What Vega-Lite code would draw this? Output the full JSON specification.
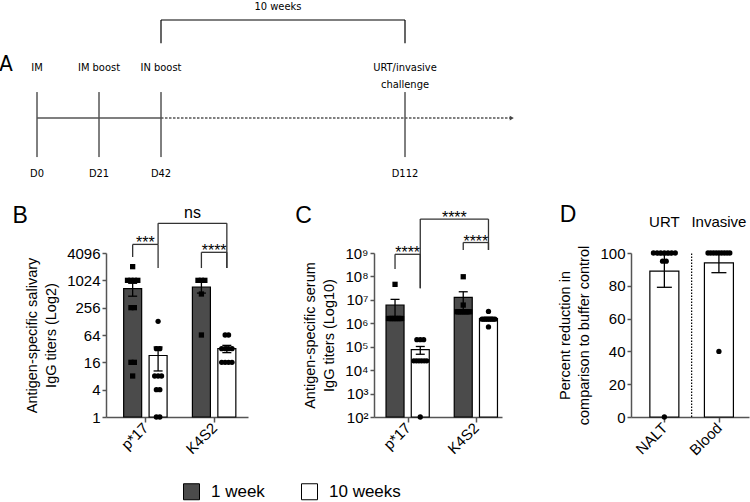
{
  "$schema": "https://vega.github.io/schema/vega-lite/v6.json",
  "width": 750,
  "height": 502,
  "autosize": {"type": "none"},
  "padding": 0,
  "background": "white",
  "config": {
    "view": {"stroke": null},
    "font": "Liberation Sans",
    "axis": {
      "domainColor": "#555555", "domainWidth": 1.5, "tickColor": "#555555", "tickWidth": 1.5, "tickSize": 4,
      "labelFont": "Liberation Sans", "labelFontSize": 15, "labelColor": "black", "labelPadding": 2,
      "titleFont": "Liberation Sans", "titleFontSize": 14.5, "titleFontWeight": "normal", "titleColor": "black",
      "titlePadding": 8, "titleLineHeight": 19, "grid": false, "labelOverlap": false, "labelFlush": false
    },
    "axisX": {"labelAngle": -45, "labelAlign": "right", "labelBaseline": "middle", "tickSize": 5, "labelPadding": 3},
    "text": {"font": "Liberation Sans", "color": "black"}
  },
  "datasets": {
    "schedule": [
      {"day": 0, "label": "D0", "event": "IM"},
      {"day": 21, "label": "D21", "event": "IM boost"},
      {"day": 42, "label": "D42", "event": "IN boost"},
      {"day": 112, "label": "D112", "event": "URT/invasive\nchallenge"}
    ],
    "phases": [
      {"start": 0, "end": 42, "style": "solid"},
      {"start": 42, "end": 145, "style": "dashed"}
    ],
    "interval": [{"start": 42, "end": 112, "label": "10 weeks"}],
    "salivary": [
      {"antigen": "p*17", "week": "1 week", "value": 2048},
      {"antigen": "p*17", "week": "1 week", "value": 1024},
      {"antigen": "p*17", "week": "1 week", "value": 1024},
      {"antigen": "p*17", "week": "1 week", "value": 1024},
      {"antigen": "p*17", "week": "1 week", "value": 1024},
      {"antigen": "p*17", "week": "1 week", "value": 256},
      {"antigen": "p*17", "week": "1 week", "value": 256},
      {"antigen": "p*17", "week": "1 week", "value": 16},
      {"antigen": "p*17", "week": "1 week", "value": 16},
      {"antigen": "p*17", "week": "1 week", "value": 8},
      {"antigen": "p*17", "week": "10 weeks", "value": 128},
      {"antigen": "p*17", "week": "10 weeks", "value": 32},
      {"antigen": "p*17", "week": "10 weeks", "value": 32},
      {"antigen": "p*17", "week": "10 weeks", "value": 8},
      {"antigen": "p*17", "week": "10 weeks", "value": 8},
      {"antigen": "p*17", "week": "10 weeks", "value": 8},
      {"antigen": "p*17", "week": "10 weeks", "value": 4},
      {"antigen": "p*17", "week": "10 weeks", "value": 4},
      {"antigen": "p*17", "week": "10 weeks", "value": 1},
      {"antigen": "p*17", "week": "10 weeks", "value": 1},
      {"antigen": "K4S2", "week": "1 week", "value": 1024},
      {"antigen": "K4S2", "week": "1 week", "value": 1024},
      {"antigen": "K4S2", "week": "1 week", "value": 1024},
      {"antigen": "K4S2", "week": "1 week", "value": 512},
      {"antigen": "K4S2", "week": "1 week", "value": 64},
      {"antigen": "K4S2", "week": "10 weeks", "value": 64},
      {"antigen": "K4S2", "week": "10 weeks", "value": 64},
      {"antigen": "K4S2", "week": "10 weeks", "value": 32},
      {"antigen": "K4S2", "week": "10 weeks", "value": 32},
      {"antigen": "K4S2", "week": "10 weeks", "value": 32},
      {"antigen": "K4S2", "week": "10 weeks", "value": 32},
      {"antigen": "K4S2", "week": "10 weeks", "value": 16},
      {"antigen": "K4S2", "week": "10 weeks", "value": 16},
      {"antigen": "K4S2", "week": "10 weeks", "value": 16},
      {"antigen": "K4S2", "week": "10 weeks", "value": 16}
    ],
    "serum": [
      {"antigen": "p*17", "week": "1 week", "value": 46000000},
      {"antigen": "p*17", "week": "1 week", "value": 1600000},
      {"antigen": "p*17", "week": "1 week", "value": 1600000},
      {"antigen": "p*17", "week": "1 week", "value": 1600000},
      {"antigen": "p*17", "week": "1 week", "value": 1600000},
      {"antigen": "p*17", "week": "1 week", "value": 1600000},
      {"antigen": "p*17", "week": "1 week", "value": 1600000},
      {"antigen": "p*17", "week": "1 week", "value": 1600000},
      {"antigen": "p*17", "week": "1 week", "value": 1600000},
      {"antigen": "p*17", "week": "1 week", "value": 1600000},
      {"antigen": "p*17", "week": "10 weeks", "value": 200000},
      {"antigen": "p*17", "week": "10 weeks", "value": 200000},
      {"antigen": "p*17", "week": "10 weeks", "value": 200000},
      {"antigen": "p*17", "week": "10 weeks", "value": 25000},
      {"antigen": "p*17", "week": "10 weeks", "value": 25000},
      {"antigen": "p*17", "week": "10 weeks", "value": 25000},
      {"antigen": "p*17", "week": "10 weeks", "value": 25000},
      {"antigen": "p*17", "week": "10 weeks", "value": 25000},
      {"antigen": "p*17", "week": "10 weeks", "value": 25000},
      {"antigen": "p*17", "week": "10 weeks", "value": 100},
      {"antigen": "K4S2", "week": "1 week", "value": 97000000},
      {"antigen": "K4S2", "week": "1 week", "value": 6000000},
      {"antigen": "K4S2", "week": "1 week", "value": 3100000},
      {"antigen": "K4S2", "week": "1 week", "value": 3100000},
      {"antigen": "K4S2", "week": "1 week", "value": 3100000},
      {"antigen": "K4S2", "week": "1 week", "value": 3100000},
      {"antigen": "K4S2", "week": "1 week", "value": 3100000},
      {"antigen": "K4S2", "week": "1 week", "value": 3100000},
      {"antigen": "K4S2", "week": "1 week", "value": 3100000},
      {"antigen": "K4S2", "week": "1 week", "value": 3100000},
      {"antigen": "K4S2", "week": "10 weeks", "value": 3200000},
      {"antigen": "K4S2", "week": "10 weeks", "value": 1500000},
      {"antigen": "K4S2", "week": "10 weeks", "value": 1500000},
      {"antigen": "K4S2", "week": "10 weeks", "value": 1500000},
      {"antigen": "K4S2", "week": "10 weeks", "value": 1500000},
      {"antigen": "K4S2", "week": "10 weeks", "value": 1500000},
      {"antigen": "K4S2", "week": "10 weeks", "value": 1500000},
      {"antigen": "K4S2", "week": "10 weeks", "value": 1500000},
      {"antigen": "K4S2", "week": "10 weeks", "value": 1500000},
      {"antigen": "K4S2", "week": "10 weeks", "value": 700000}
    ],
    "reduction": [
      {"site": "NALT", "value": 100}, {"site": "NALT", "value": 100}, {"site": "NALT", "value": 100},
      {"site": "NALT", "value": 100}, {"site": "NALT", "value": 100}, {"site": "NALT", "value": 100},
      {"site": "NALT", "value": 100}, {"site": "NALT", "value": 95}, {"site": "NALT", "value": 95},
      {"site": "NALT", "value": 0},
      {"site": "Blood", "value": 100}, {"site": "Blood", "value": 100}, {"site": "Blood", "value": 100},
      {"site": "Blood", "value": 100}, {"site": "Blood", "value": 100}, {"site": "Blood", "value": 100},
      {"site": "Blood", "value": 100}, {"site": "Blood", "value": 100}, {"site": "Blood", "value": 100},
      {"site": "Blood", "value": 40}
    ],
    "sites": [
      {"site": "NALT", "group": "URT"},
      {"site": "Blood", "group": "Invasive"}
    ],
    "bracketsB": [
      {"aA": "p*17", "wA": "1 week", "aB": "p*17", "wB": "10 weeks", "level": 6340, "lowA": 3350, "lowB": 1911, "label": "***"},
      {"aA": "p*17", "wA": "10 weeks", "aB": "K4S2", "wB": "10 weeks", "level": 18430, "lowA": 6340, "lowB": 1911, "label": "ns"},
      {"aA": "K4S2", "wA": "1 week", "aB": "K4S2", "wB": "10 weeks", "level": 4240, "lowA": 1911, "lowB": 1911, "label": "****"}
    ],
    "bracketsC": [
      {"aA": "p*17", "wA": "1 week", "aB": "p*17", "wB": "10 weeks", "level": 880000000, "lowA": 210000000, "lowB": 31000000, "label": "****"},
      {"aA": "p*17", "wA": "10 weeks", "aB": "K4S2", "wB": "10 weeks", "level": 28000000000, "lowA": 31000000, "lowB": 1350000000, "label": "****"},
      {"aA": "K4S2", "wA": "1 week", "aB": "K4S2", "wB": "10 weeks", "level": 2800000000, "lowA": 1350000000, "lowB": 1350000000, "label": "****"}
    ]
  },
  "resolve": {"scale": {"x": "independent", "y": "independent"}},
  "layer": [
    {
      "layer": [
        {
          "data": {"name": "schedule"},
          "mark": {"type": "rule", "color": "black", "strokeWidth": 1},
          "encoding": {
            "x": {"field": "day", "type": "quantitative", "scale": {"domain": [0, 42, 112, 146], "range": [37, 161, 405, 515], "nice": false, "zero": false}, "axis": null},
            "y": {"datum": 1.0, "type": "quantitative", "scale": {"domain": [-2.42, 4.54], "range": [181, 0], "nice": false, "zero": false}, "axis": null},
            "y2": {"datum": -1.5}
          }
        },
        {
          "data": {"name": "phases"},
          "transform": [{"filter": "datum.style == 'solid'"}],
          "mark": {"type": "rule", "color": "#555555", "strokeWidth": 1.6},
          "encoding": {
            "x": {"field": "start", "type": "quantitative", "axis": null},
            "x2": {"field": "end"},
            "y": {"datum": 0, "type": "quantitative", "axis": null}
          }
        },
        {
          "data": {"name": "phases"},
          "transform": [{"filter": "datum.style == 'dashed'"}],
          "mark": {"type": "rule", "color": "#555555", "strokeWidth": 1.6, "strokeDash": [2.5, 1.5]},
          "encoding": {
            "x": {"field": "start", "type": "quantitative", "axis": null},
            "x2": {"field": "end"},
            "y": {"datum": 0, "type": "quantitative", "axis": null}
          }
        },
        {
          "data": {"name": "phases"},
          "transform": [{"filter": "datum.style == 'dashed'"}],
          "mark": {"type": "point", "shape": "triangle-right", "filled": true, "color": "#444444", "size": 22, "opacity": 1},
          "encoding": {
            "x": {"field": "end", "type": "quantitative", "axis": null},
            "y": {"datum": 0, "type": "quantitative", "axis": null}
          }
        },
        {
          "data": {"name": "schedule"},
          "mark": {"type": "text", "font": "Liberation Sans Narrow, DejaVu Sans Condensed, Lato, sans-serif", "fontSize": 11, "lineBreak": "\n", "lineHeight": 17, "baseline": "middle", "align": "center"},
          "encoding": {
            "x": {"field": "day", "type": "quantitative", "axis": null},
            "y": {"datum": 1.94, "type": "quantitative", "axis": null},
            "text": {"field": "event"}
          }
        },
        {
          "data": {"name": "schedule"},
          "mark": {"type": "text", "font": "Liberation Sans Narrow, DejaVu Sans Condensed, Lato, sans-serif", "fontSize": 11, "baseline": "middle", "align": "center"},
          "encoding": {
            "x": {"field": "day", "type": "quantitative", "axis": null},
            "y": {"datum": -2.15, "type": "quantitative", "axis": null},
            "text": {"field": "label"}
          }
        },
        {
          "data": {"name": "interval"},
          "mark": {"type": "rule", "color": "black", "strokeWidth": 1.2},
          "encoding": {
            "x": {"field": "start", "type": "quantitative", "axis": null},
            "x2": {"field": "end"},
            "y": {"datum": 3.77, "type": "quantitative", "axis": null}
          }
        },
        {
          "data": {"name": "interval"},
          "mark": {"type": "rule", "color": "black", "strokeWidth": 1.2},
          "encoding": {
            "x": {"field": "start", "type": "quantitative", "axis": null},
            "y": {"datum": 2.88, "type": "quantitative", "axis": null},
            "y2": {"datum": 3.77}
          }
        },
        {
          "data": {"name": "interval"},
          "mark": {"type": "rule", "color": "black", "strokeWidth": 1.2},
          "encoding": {
            "x": {"field": "end", "type": "quantitative", "axis": null},
            "y": {"datum": 2.88, "type": "quantitative", "axis": null},
            "y2": {"datum": 3.77}
          }
        },
        {
          "data": {"name": "interval"},
          "transform": [{"calculate": "(datum.start + datum.end) / 2", "as": "mid"}],
          "mark": {"type": "text", "font": "Liberation Sans Narrow, DejaVu Sans Condensed, Lato, sans-serif", "fontSize": 11, "baseline": "middle", "align": "center", "dx": -5},
          "encoding": {
            "x": {"field": "mid", "type": "quantitative", "axis": null},
            "y": {"datum": 4.27, "type": "quantitative", "axis": null},
            "text": {"field": "label"}
          }
        },
        {
          "data": {"values": [{"panel": "A"}]},
          "mark": {"type": "text", "font": "Liberation Sans Narrow, DejaVu Sans Condensed, Lato, sans-serif", "fontSize": 22, "baseline": "middle", "align": "center"},
          "encoding": {
            "x": {"datum": -10.5, "type": "quantitative", "axis": null},
            "y": {"datum": 2.08, "type": "quantitative", "axis": null},
            "text": {"field": "panel"}
          }
        }
      ]
    },
    {
      "layer": [
        {
          "data": {"name": "salivary"},
          "transform": [
            {"aggregate": [{"op": "mean", "field": "value", "as": "mean"}, {"op": "stderr", "field": "value", "as": "sem"}], "groupby": ["antigen", "week"]},
            {"calculate": "(datum.antigen == 'p*17' ? 0 : 1) + (datum.week == '1 week' ? -0.185 : 0.185)", "as": "xpos"},
            {"calculate": "datum.mean - datum.sem", "as": "lo"},
            {"calculate": "datum.mean + datum.sem", "as": "hi"}
          ],
          "layer": [
            {
              "mark": {"type": "bar", "orient": "vertical", "width": 18, "stroke": "black", "strokeWidth": 1.2},
              "encoding": {
                "x": {"field": "xpos", "type": "quantitative", "scale": {"domain": [-0.5, 1.42], "range": [106, 248], "nice": false, "zero": false}, "axis": {"orient": "bottom", "offset": -85, "values": [0, 1], "labelExpr": "datum.value == 0 ? 'p*17' : 'K4S2'", "title": null}},
                "y": {"field": "mean", "type": "quantitative", "scale": {"type": "log", "base": 2, "domain": [1, 4096], "range": [417, 253], "nice": false}, "axis": {"orient": "left", "offset": -106, "values": [1, 4, 16, 64, 256, 1024, 4096], "format": "d", "title": ["Antigen-specific salivary", "IgG titers (Log2)"]}},
                "y2": {"datum": 1},
                "fill": {"field": "week", "type": "nominal", "scale": {"domain": ["1 week", "10 weeks"], "range": ["#4b4b4b", "#ffffff"]},
                  "legend": {"title": null, "orient": "none", "legendX": 183, "legendY": 483, "direction": "horizontal", "symbolType": "square", "symbolSize": 256, "symbolStrokeColor": "black", "symbolStrokeWidth": 1, "symbolOpacity": 1, "labelFont": "Liberation Sans", "labelFontSize": 17, "labelColor": "black", "labelOffset": 11, "columnPadding": 34}}
              }
            },
            {
              "mark": {"type": "rule", "color": "black", "strokeWidth": 1.3},
              "encoding": {
                "x": {"field": "xpos", "type": "quantitative"},
                "y": {"field": "lo", "type": "quantitative"},
                "y2": {"field": "hi"}
              }
            },
            {
              "mark": {"type": "tick", "orient": "horizontal", "size": 9, "thickness": 1.3, "color": "black", "opacity": 1},
              "encoding": {
                "x": {"field": "xpos", "type": "quantitative"},
                "y": {"field": "hi", "type": "quantitative"}
              }
            },
            {
              "mark": {"type": "tick", "orient": "horizontal", "size": 9, "thickness": 1.3, "color": "black", "opacity": 1},
              "encoding": {
                "x": {"field": "xpos", "type": "quantitative"},
                "y": {"field": "lo", "type": "quantitative"}
              }
            }
          ]
        },
        {
          "data": {"name": "salivary"},
          "transform": [
            {"window": [{"op": "row_number", "as": "rank"}, {"op": "count", "as": "n"}], "groupby": ["antigen", "week", "value"], "frame": [null, null]},
            {"calculate": "(datum.antigen == 'p*17' ? 0 : 1) + (datum.week == '1 week' ? -0.185 : 0.185) + (datum.rank - (datum.n + 1) / 2) * min(0.05, 0.19 / max(datum.n - 1, 1))", "as": "xpos"},
            {"calculate": "datum.week == '1 week' ? 'square' : 'circle'", "as": "marker"}
          ],
          "mark": {"type": "point", "filled": true, "color": "black", "opacity": 1, "size": 28},
          "encoding": {
            "x": {"field": "xpos", "type": "quantitative"},
            "y": {"field": "value", "type": "quantitative"},
            "shape": {"field": "marker", "type": "nominal", "scale": null}
          }
        },
        {
          "data": {"name": "bracketsB"},
          "transform": [
            {"calculate": "(datum.aA == 'p*17' ? 0 : 1) + (datum.wA == '1 week' ? -0.185 : 0.185)", "as": "xa"},
            {"calculate": "(datum.aB == 'p*17' ? 0 : 1) + (datum.wB == '1 week' ? -0.185 : 0.185)", "as": "xb"},
            {"calculate": "(datum.xa + datum.xb) / 2", "as": "xm"}
          ],
          "layer": [
            {
              "mark": {"type": "rule", "color": "#333333", "strokeWidth": 1.3},
              "encoding": {
                "x": {"field": "xa", "type": "quantitative"},
                "x2": {"field": "xb"},
                "y": {"field": "level", "type": "quantitative"}
              }
            },
            {
              "mark": {"type": "rule", "color": "#333333", "strokeWidth": 1.3},
              "encoding": {
                "x": {"field": "xa", "type": "quantitative"},
                "y": {"field": "level", "type": "quantitative"},
                "y2": {"field": "lowA"}
              }
            },
            {
              "mark": {"type": "rule", "color": "#333333", "strokeWidth": 1.3},
              "encoding": {
                "x": {"field": "xb", "type": "quantitative"},
                "y": {"field": "level", "type": "quantitative"},
                "y2": {"field": "lowB"}
              }
            },
            {
              "transform": [{"filter": "datum.label != 'ns'"}],
              "mark": {"type": "text", "fontSize": 16, "dy": 4, "baseline": "alphabetic", "align": "center"},
              "encoding": {
                "x": {"field": "xm", "type": "quantitative"},
                "y": {"field": "level", "type": "quantitative"},
                "text": {"field": "label"}
              }
            },
            {
              "transform": [{"filter": "datum.label == 'ns'"}],
              "mark": {"type": "text", "fontSize": 16, "dy": -5, "baseline": "alphabetic", "align": "center"},
              "encoding": {
                "x": {"field": "xm", "type": "quantitative"},
                "y": {"field": "level", "type": "quantitative"},
                "text": {"field": "label"}
              }
            }
          ]
        },
        {
          "data": {"values": [{"panel": "B"}]},
          "mark": {"type": "text", "fontSize": 23, "baseline": "alphabetic", "align": "left"},
          "encoding": {
            "x": {"datum": -1.932, "type": "quantitative"},
            "y": {"datum": 19220, "type": "quantitative"},
            "text": {"field": "panel"}
          }
        }
      ]
    },
    {
      "layer": [
        {
          "data": {"name": "serum"},
          "transform": [
            {"aggregate": [{"op": "mean", "field": "value", "as": "mean"}, {"op": "stderr", "field": "value", "as": "sem"}], "groupby": ["antigen", "week"]},
            {"calculate": "(datum.antigen == 'p*17' ? 0 : 1) + (datum.week == '1 week' ? -0.185 : 0.185)", "as": "xpos"},
            {"calculate": "datum.mean - datum.sem", "as": "lo"},
            {"calculate": "datum.mean + datum.sem", "as": "hi"}
          ],
          "layer": [
            {
              "mark": {"type": "bar", "orient": "vertical", "width": 18, "stroke": "black", "strokeWidth": 1.2},
              "encoding": {
                "x": {"field": "xpos", "type": "quantitative", "scale": {"domain": [-0.42, 1.31], "range": [374, 502], "nice": false, "zero": false}, "axis": {"orient": "bottom", "offset": -85, "values": [0, 1], "labelExpr": "datum.value == 0 ? 'p*17' : 'K4S2'", "title": null}},
                "y": {"field": "mean", "type": "quantitative", "scale": {"type": "log", "base": 10, "domain": [100, 1000000000], "range": [417, 253], "nice": false}, "axis": {"orient": "left", "offset": -374, "values": [100, 1000, 10000, 100000, 1000000, 10000000, 100000000, 1000000000], "labelExpr": "'10' + ['⁰','¹','²','³','⁴','⁵','⁶','⁷','⁸','⁹'][round(log(datum.value) / LN10)]", "title": ["Antigen-specific serum", "IgG titers (Log10)"]}},
                "y2": {"datum": 100},
                "fill": {"field": "week", "type": "nominal", "scale": {"domain": ["1 week", "10 weeks"], "range": ["#4b4b4b", "#ffffff"]},
                  "legend": {"title": null, "orient": "none", "legendX": 183, "legendY": 483, "direction": "horizontal", "symbolType": "square", "symbolSize": 256, "symbolStrokeColor": "black", "symbolStrokeWidth": 1, "symbolOpacity": 1, "labelFont": "Liberation Sans", "labelFontSize": 17, "labelColor": "black", "labelOffset": 11, "columnPadding": 34}}
              }
            },
            {
              "mark": {"type": "rule", "color": "black", "strokeWidth": 1.3},
              "encoding": {
                "x": {"field": "xpos", "type": "quantitative"},
                "y": {"field": "lo", "type": "quantitative"},
                "y2": {"field": "hi"}
              }
            },
            {
              "mark": {"type": "tick", "orient": "horizontal", "size": 9, "thickness": 1.3, "color": "black", "opacity": 1},
              "encoding": {
                "x": {"field": "xpos", "type": "quantitative"},
                "y": {"field": "hi", "type": "quantitative"}
              }
            },
            {
              "mark": {"type": "tick", "orient": "horizontal", "size": 9, "thickness": 1.3, "color": "black", "opacity": 1},
              "encoding": {
                "x": {"field": "xpos", "type": "quantitative"},
                "y": {"field": "lo", "type": "quantitative"}
              }
            }
          ]
        },
        {
          "data": {"name": "serum"},
          "transform": [
            {"window": [{"op": "row_number", "as": "rank"}, {"op": "count", "as": "n"}], "groupby": ["antigen", "week", "value"], "frame": [null, null]},
            {"calculate": "(datum.antigen == 'p*17' ? 0 : 1) + (datum.week == '1 week' ? -0.185 : 0.185) + (datum.rank - (datum.n + 1) / 2) * min(0.05, 0.19 / max(datum.n - 1, 1))", "as": "xpos"},
            {"calculate": "datum.week == '1 week' ? 'square' : 'circle'", "as": "marker"}
          ],
          "mark": {"type": "point", "filled": true, "color": "black", "opacity": 1, "size": 28},
          "encoding": {
            "x": {"field": "xpos", "type": "quantitative"},
            "y": {"field": "value", "type": "quantitative"},
            "shape": {"field": "marker", "type": "nominal", "scale": null}
          }
        },
        {
          "data": {"name": "bracketsC"},
          "transform": [
            {"calculate": "(datum.aA == 'p*17' ? 0 : 1) + (datum.wA == '1 week' ? -0.185 : 0.185)", "as": "xa"},
            {"calculate": "(datum.aB == 'p*17' ? 0 : 1) + (datum.wB == '1 week' ? -0.185 : 0.185)", "as": "xb"},
            {"calculate": "(datum.xa + datum.xb) / 2", "as": "xm"}
          ],
          "layer": [
            {
              "mark": {"type": "rule", "color": "#333333", "strokeWidth": 1.3},
              "encoding": {
                "x": {"field": "xa", "type": "quantitative"},
                "x2": {"field": "xb"},
                "y": {"field": "level", "type": "quantitative"}
              }
            },
            {
              "mark": {"type": "rule", "color": "#333333", "strokeWidth": 1.3},
              "encoding": {
                "x": {"field": "xa", "type": "quantitative"},
                "y": {"field": "level", "type": "quantitative"},
                "y2": {"field": "lowA"}
              }
            },
            {
              "mark": {"type": "rule", "color": "#333333", "strokeWidth": 1.3},
              "encoding": {
                "x": {"field": "xb", "type": "quantitative"},
                "y": {"field": "level", "type": "quantitative"},
                "y2": {"field": "lowB"}
              }
            },
            {
              "mark": {"type": "text", "fontSize": 16, "dy": 4, "baseline": "alphabetic", "align": "center"},
              "encoding": {
                "x": {"field": "xm", "type": "quantitative"},
                "y": {"field": "level", "type": "quantitative"},
                "text": {"field": "label"}
              }
            }
          ]
        },
        {
          "data": {"values": [{"panel": "C"}]},
          "mark": {"type": "text", "fontSize": 23, "baseline": "alphabetic", "align": "left"},
          "encoding": {
            "x": {"datum": -1.649, "type": "quantitative"},
            "y": {"datum": 20000000000, "type": "quantitative"},
            "text": {"field": "panel"}
          }
        }
      ]
    },
    {
      "layer": [
        {
          "data": {"name": "reduction"},
          "transform": [
            {"aggregate": [{"op": "mean", "field": "value", "as": "mean"}, {"op": "stderr", "field": "value", "as": "sem"}], "groupby": ["site"]},
            {"calculate": "datum.site == 'NALT' ? 0 : 1", "as": "xpos"},
            {"calculate": "datum.mean - datum.sem", "as": "lo"},
            {"calculate": "datum.mean + datum.sem", "as": "hi"}
          ],
          "layer": [
            {
              "mark": {"type": "bar", "orient": "vertical", "width": 29, "fill": "white", "stroke": "black", "strokeWidth": 1.2},
              "encoding": {
                "x": {"field": "xpos", "type": "quantitative", "scale": {"domain": [-0.52, 1.46], "range": [631, 749], "nice": false, "zero": false}, "axis": {"orient": "bottom", "offset": -85, "values": [0, 1], "labelExpr": "datum.value == 0 ? 'NALT' : 'Blood'", "title": null}},
                "y": {"field": "mean", "type": "quantitative", "scale": {"domain": [0, 100], "range": [417, 253], "nice": false}, "axis": {"orient": "left", "offset": -631, "values": [0, 20, 40, 60, 80, 100], "title": ["Percent reduction in", "comparison to buffer control"]}},
                "y2": {"datum": 0}
              }
            },
            {
              "mark": {"type": "rule", "color": "black", "strokeWidth": 1.3},
              "encoding": {
                "x": {"field": "xpos", "type": "quantitative"},
                "y": {"field": "lo", "type": "quantitative"},
                "y2": {"field": "hi"}
              }
            },
            {
              "mark": {"type": "tick", "orient": "horizontal", "size": 15, "thickness": 1.3, "color": "black", "opacity": 1},
              "encoding": {
                "x": {"field": "xpos", "type": "quantitative"},
                "y": {"field": "hi", "type": "quantitative"}
              }
            },
            {
              "mark": {"type": "tick", "orient": "horizontal", "size": 15, "thickness": 1.3, "color": "black", "opacity": 1},
              "encoding": {
                "x": {"field": "xpos", "type": "quantitative"},
                "y": {"field": "lo", "type": "quantitative"}
              }
            }
          ]
        },
        {
          "data": {"name": "reduction"},
          "transform": [
            {"window": [{"op": "row_number", "as": "rank"}, {"op": "count", "as": "n"}], "groupby": ["site", "value"], "frame": [null, null]},
            {"calculate": "(datum.site == 'NALT' ? 0 : 1) + (datum.rank - (datum.n + 1) / 2) * min(0.067, 0.4 / max(datum.n - 1, 1))", "as": "xpos"}
          ],
          "mark": {"type": "point", "filled": true, "color": "black", "opacity": 1, "size": 28, "shape": "circle"},
          "encoding": {
            "x": {"field": "xpos", "type": "quantitative"},
            "y": {"field": "value", "type": "quantitative"}
          }
        },
        {
          "data": {"values": [{"divider": "URT | Invasive"}]},
          "mark": {"type": "rule", "color": "black", "strokeWidth": 1.2, "strokeDash": [1.5, 1.5]},
          "encoding": {
            "x": {"datum": 0.5, "type": "quantitative"},
            "y": {"datum": 0, "type": "quantitative"},
            "y2": {"datum": 100}
          }
        },
        {
          "data": {"name": "sites"},
          "transform": [{"calculate": "datum.site == 'NALT' ? 0 : 1", "as": "xpos"}],
          "mark": {"type": "text", "fontSize": 15, "baseline": "alphabetic", "align": "center"},
          "encoding": {
            "x": {"field": "xpos", "type": "quantitative"},
            "y": {"datum": 116, "type": "quantitative"},
            "text": {"field": "group"}
          }
        },
        {
          "data": {"values": [{"panel": "D"}]},
          "mark": {"type": "text", "fontSize": 23, "baseline": "alphabetic", "align": "left"},
          "encoding": {
            "x": {"datum": -1.916, "type": "quantitative"},
            "y": {"datum": 118.6, "type": "quantitative"},
            "text": {"field": "panel"}
          }
        }
      ]
    }
  ]
}
